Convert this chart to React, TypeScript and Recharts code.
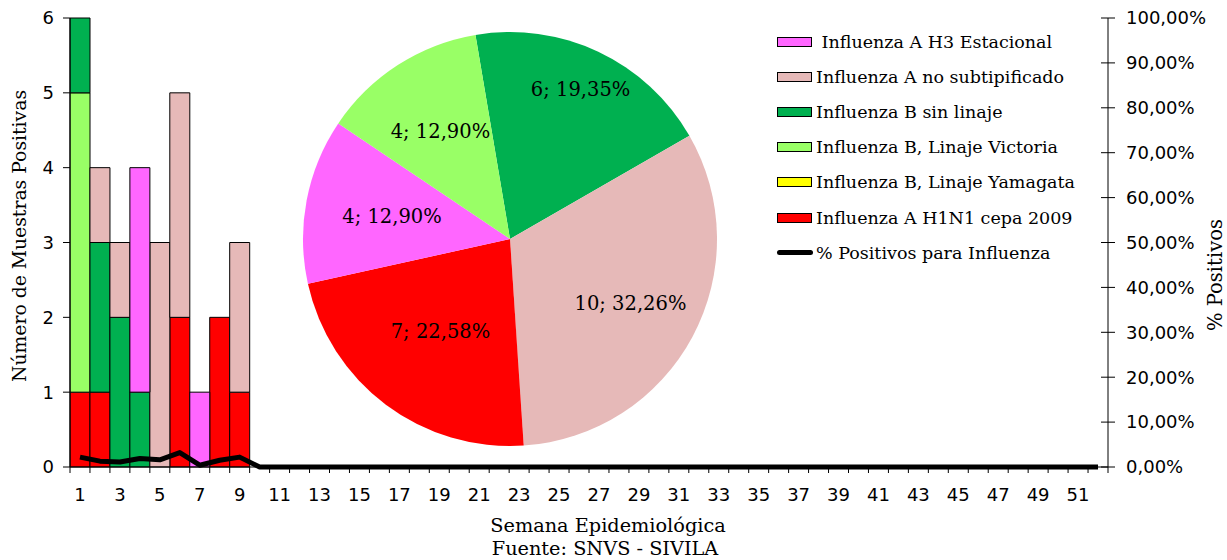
import React from 'react';
import { ComposedChart, Bar, Line, XAxis, YAxis, Legend, Label, PieChart, Pie, Cell } from 'recharts';

const weeks = [
  1, 2, 3, 4, 5, 6, 7, 8, 9, 10, 11, 12, 13, 14, 15, 16, 17, 18, 19, 20, 21, 22, 23, 24, 25, 26,
  27, 28, 29, 30, 31, 32, 33, 34, 35, 36, 37, 38, 39, 40, 41, 42, 43, 44, 45, 46, 47, 48, 49, 50, 51, 52,
];

// stacked from the bottom up
const h1n1 = [1, 1, 0, 0, 0, 2, 0, 2, 1, 0, 0, 0, 0, 0, 0, 0, 0, 0, 0, 0, 0, 0, 0, 0, 0, 0, 0, 0, 0, 0, 0, 0, 0, 0, 0, 0, 0, 0, 0, 0, 0, 0, 0, 0, 0, 0, 0, 0, 0, 0, 0, 0];
const bYamagata = [0, 0, 0, 0, 0, 0, 0, 0, 0, 0, 0, 0, 0, 0, 0, 0, 0, 0, 0, 0, 0, 0, 0, 0, 0, 0, 0, 0, 0, 0, 0, 0, 0, 0, 0, 0, 0, 0, 0, 0, 0, 0, 0, 0, 0, 0, 0, 0, 0, 0, 0, 0];
const bVictoria = [4, 0, 0, 0, 0, 0, 0, 0, 0, 0, 0, 0, 0, 0, 0, 0, 0, 0, 0, 0, 0, 0, 0, 0, 0, 0, 0, 0, 0, 0, 0, 0, 0, 0, 0, 0, 0, 0, 0, 0, 0, 0, 0, 0, 0, 0, 0, 0, 0, 0, 0, 0];
const bSinLinaje = [1, 2, 2, 1, 0, 0, 0, 0, 0, 0, 0, 0, 0, 0, 0, 0, 0, 0, 0, 0, 0, 0, 0, 0, 0, 0, 0, 0, 0, 0, 0, 0, 0, 0, 0, 0, 0, 0, 0, 0, 0, 0, 0, 0, 0, 0, 0, 0, 0, 0, 0, 0];
const aNoSubtip = [0, 1, 1, 0, 3, 3, 0, 0, 2, 0, 0, 0, 0, 0, 0, 0, 0, 0, 0, 0, 0, 0, 0, 0, 0, 0, 0, 0, 0, 0, 0, 0, 0, 0, 0, 0, 0, 0, 0, 0, 0, 0, 0, 0, 0, 0, 0, 0, 0, 0, 0, 0];
const h3 = [0, 0, 0, 3, 0, 0, 1, 0, 0, 0, 0, 0, 0, 0, 0, 0, 0, 0, 0, 0, 0, 0, 0, 0, 0, 0, 0, 0, 0, 0, 0, 0, 0, 0, 0, 0, 0, 0, 0, 0, 0, 0, 0, 0, 0, 0, 0, 0, 0, 0, 0, 0];
const pctPositive = [2.2, 1.3, 1.1, 1.9, 1.6, 3.2, 0.4, 1.5, 2.2, 0, 0, 0, 0, 0, 0, 0, 0, 0, 0, 0, 0, 0, 0, 0, 0, 0, 0, 0, 0, 0, 0, 0, 0, 0, 0, 0, 0, 0, 0, 0, 0, 0, 0, 0, 0, 0, 0, 0, 0, 0, 0, 0];

const countTicks = [0, 1, 2, 3, 4, 5, 6];
const pctTicks = [0, 10, 20, 30, 40, 50, 60, 70, 80, 90, 100];

// pie, clockwise from just left of 12 o'clock
const pieNames = ['Influenza B sin linaje', 'Influenza A no subtipificado', 'Influenza A H1N1 cepa 2009', 'Influenza A H3 Estacional', 'Influenza B, Linaje Victoria'];
const pieValues = [6, 10, 7, 4, 4];

const RED = '#FF0000';
const DKGREEN = '#00B050';
const LTGREEN = '#99FF66';
const YELLOW = '#FFFF00';
const PINK = '#E6B9B8';
const MAGENTA = '#FF66FF';

const pieColors = [DKGREEN, PINK, RED, MAGENTA, LTGREEN];
// how far out each slice label sits, as a share of the radius
const pieLabelRadius = [0.8, 0.66, 0.56, 0.58, 0.62];

const legendNames = [' Influenza A H3 Estacional', 'Influenza A no subtipificado', 'Influenza B sin linaje', 'Influenza B, Linaje Victoria', 'Influenza B, Linaje Yamagata', 'Influenza A H1N1 cepa 2009', '% Positivos para Influenza'];
const legendColors = [MAGENTA, PINK, DKGREEN, LTGREEN, YELLOW, RED, '#000'];

const data = weeks.map((w, i) => ({
  week: String(w),
  h1n1: h1n1[i],
  yamagata: bYamagata[i],
  victoria: bVictoria[i],
  sinLinaje: bSinLinaje[i],
  noSubtip: aNoSubtip[i],
  h3: h3[i],
  pct: pctPositive[i],
}));

const pieData = pieNames.map((name, i) => ({ name, value: pieValues[i] }));

const W = 1227;
const H = 560;
const LEFT_W = 70;
const RIGHT_W = 119;
const BAND = (W - LEFT_W - RIGHT_W) / weeks.length;

const SANS = 'DejaVu Sans';
const SERIF = 'DejaVu Serif';

const fmtPct = (v: number) => v.toFixed(2).replace('.', ',') + '%';

const WeekTick = (props: any) => {
  const { x, y, payload, index } = props;
  const half = BAND / 2;
  const show = Number(payload.value) % 2 === 1;
  return (
    <g>
      <line x1={x - half} x2={x - half} y1={y} y2={y + 6} stroke="#000" />
      {index === weeks.length - 1 && <line x1={x + half} x2={x + half} y1={y} y2={y + 6} stroke="#000" />}
      {show && (
        <text x={x} y={y + 34} textAnchor="middle" fontFamily={SANS} fontSize={18} fill="#000">
          {payload.value}
        </text>
      )}
    </g>
  );
};

const PctTick = (props: any) => {
  const { x, y, payload } = props;
  return (
    <g>
      <line x1={x - 7} x2={x + 7} y1={y} y2={y} stroke="#000" />
      <text x={x + 18} y={y} dy="0.35em" textAnchor="start" fontFamily={SANS} fontSize={18} fill="#000">
        {fmtPct(payload.value)}
      </text>
    </g>
  );
};

const LegendBox = () => (
  <div style={{ fontFamily: SERIF, fontSize: 17.5, color: '#000' }}>
    {legendNames.map((name, i) => {
      const isLine = i === legendNames.length - 1;
      return (
        <div key={name} style={{ display: 'flex', alignItems: 'center', height: 35.2, whiteSpace: 'pre' }}>
          {isLine ? (
            <div style={{ width: 36, height: 5, background: '#000', borderRadius: 3 }} />
          ) : (
            <div style={{ width: 35, height: 10, boxSizing: 'border-box', background: legendColors[i], border: '1px solid #000' }} />
          )}
          <span style={{ marginLeft: isLine ? 3 : 4 }}>{name}</span>
        </div>
      );
    })}
  </div>
);

const PieLabel = (props: any) => {
  const { cx, cy, midAngle, outerRadius, value, percent, index } = props;
  const r = outerRadius * pieLabelRadius[index];
  const rad = (-midAngle * Math.PI) / 180;
  return (
    <text x={cx + r * Math.cos(rad)} y={cy + r * Math.sin(rad)} textAnchor="middle" dominantBaseline="central" fontFamily={SERIF} fontSize={19.5} fill="#000">
      {`${value}; ${fmtPct(percent * 100)}`}
    </text>
  );
};

export default function App() {
  return (
    <div style={{ position: 'absolute', left: 0, top: 0, width: W, height: H, background: '#fff' }}>
      <ComposedChart width={W} height={H} data={data} margin={{ top: 18, right: 0, left: 0, bottom: 0 }} barCategoryGap={0} barGap={0}>
        <XAxis
          dataKey="week"
          interval={0}
          height={93}
          tick={WeekTick}
          tickLine={false}
          tickSize={0}
          tickMargin={0}
          stroke="#000"
        >
          <Label
            content={({ viewBox }: any) => (
              <g fontFamily={SERIF} fontSize={19.3} fill="#000" textAnchor="middle">
                <text x={viewBox.x + viewBox.width / 2 + 19} y={viewBox.y + 58} dominantBaseline="central">Semana Epidemiológica</text>
                <text x={viewBox.x + viewBox.width / 2 + 16} y={viewBox.y + 81} dominantBaseline="central">Fuente: SNVS - SIVILA</text>
              </g>
            )}
          />
        </XAxis>
        <YAxis
          yAxisId="n"
          width={LEFT_W}
          domain={[0, 6]}
          ticks={countTicks}
          tickSize={7}
          tickMargin={9}
          stroke="#000"
          tick={{ fill: '#000', fontSize: 18, fontFamily: SANS }}
        >
          <Label
            content={({ viewBox }: any) => (
              <text
                x={viewBox.x + 19}
                y={236}
                transform={`rotate(-90 ${viewBox.x + 19} 236)`}
                textAnchor="middle"
                dominantBaseline="central"
                fontFamily={SERIF}
                fontSize={18.8}
                fill="#000"
              >
                Número de Muestras Positivas
              </text>
            )}
          />
        </YAxis>
        <YAxis
          yAxisId="pct"
          orientation="right"
          width={RIGHT_W}
          domain={[0, 100]}
          ticks={pctTicks}
          tickLine={false}
          tickSize={0}
          tickMargin={0}
          stroke="#000"
          tick={PctTick}
        >
          <Label
            content={({ viewBox }: any) => (
              <text
                x={viewBox.x + 107}
                y={275}
                transform={`rotate(-90 ${viewBox.x + 107} 275)`}
                textAnchor="middle"
                dominantBaseline="central"
                fontFamily={SERIF}
                fontSize={19.5}
                fill="#000"
              >
                % Positivos
              </text>
            )}
          />
        </YAxis>
        <Legend
          layout="vertical"
          align="center"
          verticalAlign="middle"
          content={LegendBox}
          wrapperStyle={{ left: 777, top: 24, width: 340 }}
        />
        <Bar yAxisId="n" dataKey="h1n1" stackId="a" fill={RED} stroke="#000" strokeWidth={1} isAnimationActive={false} />
        <Bar yAxisId="n" dataKey="yamagata" stackId="a" fill={YELLOW} stroke="#000" strokeWidth={1} isAnimationActive={false} />
        <Bar yAxisId="n" dataKey="victoria" stackId="a" fill={LTGREEN} stroke="#000" strokeWidth={1} isAnimationActive={false} />
        <Bar yAxisId="n" dataKey="sinLinaje" stackId="a" fill={DKGREEN} stroke="#000" strokeWidth={1} isAnimationActive={false} />
        <Bar yAxisId="n" dataKey="noSubtip" stackId="a" fill={PINK} stroke="#000" strokeWidth={1} isAnimationActive={false} />
        <Bar yAxisId="n" dataKey="h3" stackId="a" fill={MAGENTA} stroke="#000" strokeWidth={1} isAnimationActive={false} />
        <Line
          yAxisId="pct"
          type="linear"
          dataKey="pct"
          stroke="#000"
          strokeWidth={5}
          strokeLinejoin="round"
          dot={false}
          activeDot={false}
          isAnimationActive={false}
        />
      </ComposedChart>
      <div style={{ position: 'absolute', left: 290, top: 20 }}>
        <PieChart width={440} height={440}>
          <Pie
            data={pieData}
            dataKey="value"
            nameKey="name"
            cx={215}
            cy={214}
            outerRadius={207}
            startAngle={99.6}
            endAngle={-260.4}
            stroke="none"
            label={PieLabel}
            labelLine={false}
            isAnimationActive={false}
          >
            {pieData.map((d, i) => (
              <Cell key={d.name} fill={pieColors[i]} />
            ))}
          </Pie>
        </PieChart>
      </div>
    </div>
  );
}
